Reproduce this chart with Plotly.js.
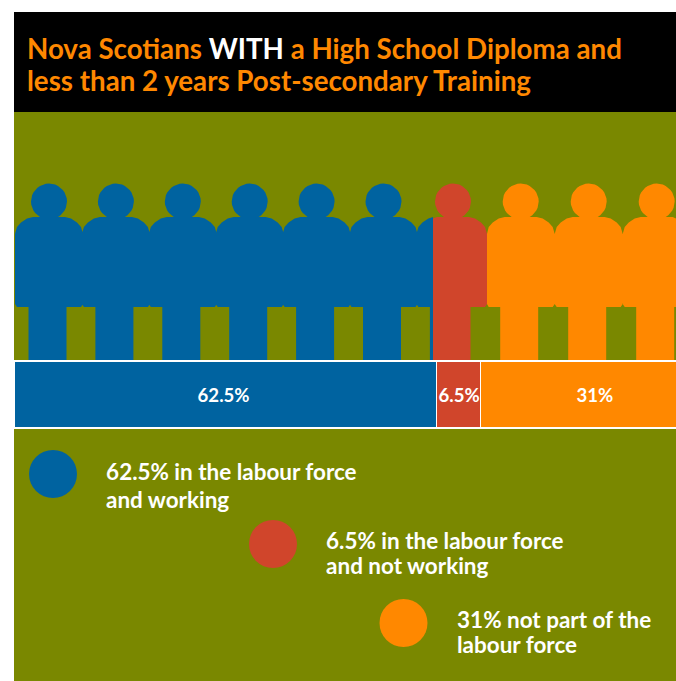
<!DOCTYPE html>
<html>
<head>
<meta charset="utf-8">
<script src="https://cdn.plot.ly/plotly-3.0.1.min.js"></script>
<style>html,body{margin:0;padding:0;background:#fff}</style>
</head>
<body>
<div id="chart"></div>
<script>
// Labour force status shares, in percent
const statusValues = [62.5, 6.5, 31];
const statusColors = ['#0063a0', '#d0452b', '#ff8800'];
const figureCounts = [7, 1, 3];
const legendLines = [
  ['62.5% in the labour force', 'and working'],
  ['6.5% in the labour force', 'and not working'],
  ['31% not part of the', 'labour force']
];

// Page geometry: the main axes are numbered in page pixels
const LEFT = 14, RIGHT = 676, TOP = 112, BOTTOM = 681;
const PX_PER_PERCENT = 6.76;
const OLIVE = '#7a8800';
const FONT = 'Lato, "Open Sans", sans-serif';

// One row of figures per status, each cropped to its own column
const rows = [
  {start: 49, pitch: 66.9, clip: [14, 433]},
  {start: 453, pitch: 67, clip: [433, 488]},
  {start: 520.7, pitch: 68, clip: [487, 676]}
];
const shoulder = [[34, 234], [32, 227], [28, 222.5], [22, 218.5], [16, 217]];

function figureOutline(cx, clip) {
  const xs = [], ys = [];
  const add = (x, y) => { xs.push(Math.min(clip[1], Math.max(clip[0], x))); ys.push(y); };
  // head
  for (let a = 0; a <= 360; a += 10) {
    const t = a * Math.PI / 180;
    add(cx + 18 * Math.cos(t), 201.5 + 18 * Math.sin(t));
  }
  xs.push(null); ys.push(null);
  // legs, body and shoulders, clockwise on screen from the lower left leg
  add(cx - 20.5, 361);
  add(cx - 20.5, 307);
  add(cx - 32, 307);
  add(cx - 34, 304);
  shoulder.forEach(p => add(cx - p[0], p[1]));
  shoulder.slice().reverse().forEach(p => add(cx + p[0], p[1]));
  add(cx + 34, 304);
  add(cx + 32, 307);
  add(cx + 17.5, 307);
  add(cx + 17.5, 361);
  xs.push(null); ys.push(null);
  return {xs, ys};
}

const traces = [];

// Figures
[0, 2, 1].forEach(g => {
  const xs = [], ys = [];
  for (let i = 0; i < figureCounts[g]; i++) {
    const o = figureOutline(rows[g].start + i * rows[g].pitch, rows[g].clip);
    xs.push(...o.xs); ys.push(...o.ys);
  }
  traces.push({
    type: 'scatter', mode: 'lines', x: xs, y: ys, fill: 'toself',
    fillcolor: statusColors[g], line: {width: 0, color: statusColors[g]},
    hoverinfo: 'skip', showlegend: false, xaxis: 'x', yaxis: 'y'
  });
});

// Legend dots
const dotX = [53, 273, 403.5], dotY = [474, 544, 623];
traces.push({
  type: 'scatter', mode: 'markers', x: dotX, y: dotY,
  marker: {size: 48, color: statusColors, line: {width: 0}},
  hoverinfo: 'skip', showlegend: false, xaxis: 'x', yaxis: 'y'
});

// Stacked share bar on the percent axis
statusValues.forEach((v, i) => {
  traces.push({
    type: 'bar', orientation: 'h', x: [v], y: [394.5], width: [67],
    marker: {color: statusColors[i], line: {color: '#ffffff', width: 1.5}},
    hoverinfo: 'skip', showlegend: false, xaxis: 'x2', yaxis: 'y'
  });
});

const annotations = [];
const barLabelX = [223, 458.5, 595];
statusValues.forEach((v, i) => annotations.push({
  xref: 'x', yref: 'y', x: barLabelX[i], y: 394.5, text: v + '%', showarrow: false,
  xanchor: 'center', yanchor: 'middle',
  font: {family: FONT, size: 19, color: '#ffffff', weight: 700}
}));

const legendX = [104, 324, 455];
const legendY = [[471, 499], [540, 565], [619, 644]];
legendLines.forEach((lines, i) => lines.forEach((t, j) => annotations.push({
  xref: 'x', yref: 'y', x: legendX[i], y: legendY[i][j], text: t, showarrow: false,
  xanchor: 'left', yanchor: 'middle',
  font: {family: FONT, size: 22, color: '#ffffff', weight: 700}
})));

const layout = {
  width: 676, height: 681,
  margin: {l: LEFT, r: 0, t: TOP, b: 0, pad: 0},
  paper_bgcolor: '#ffffff', plot_bgcolor: OLIVE,
  barmode: 'stack', showlegend: false,
  title: {
    text: '<span style="font-size:29px">Nova Scotians <span style="color:#ffffff">WITH</span> a High School Diploma and</span><br>' +
          '<span style="font-size:29px">less than 2 years Post-secondary Training</span>',
    x: 27 / 676, xanchor: 'left', xref: 'container', yref: 'container', y: 1 - 59 / 681, yanchor: 'bottom',
    font: {family: FONT, size: 24.6, color: '#ff8800', weight: 700}
  },
  xaxis: {domain: [0, 1], range: [LEFT, RIGHT], visible: false, fixedrange: true},
  xaxis2: {range: [0, (RIGHT - LEFT) / PX_PER_PERCENT], overlaying: 'x', visible: false, fixedrange: true},
  yaxis: {range: [BOTTOM, TOP], visible: false, fixedrange: true},
  shapes: [{
    type: 'rect', xref: 'paper', yref: 'paper', x0: 0, x1: 1, y0: 1, y1: 1 + 100 / 569,
    fillcolor: '#000000', line: {width: 0}, layer: 'below'
  }],
  annotations
};

// The set type is a condensed face, so the drawn text is narrowed horizontally
function narrow(el, factor, origin) {
  el.style.transformBox = 'fill-box';
  el.style.transformOrigin = origin + ' 50%';
  el.style.transform = 'scaleX(' + factor + ')';
}

Plotly.newPlot('chart', traces, layout, {displayModeBar: false, staticPlot: true}).then(() => {
  const title = document.querySelector('.gtitle');
  narrow(title, 595 / title.getBBox().width, '0%');
  const notes = Array.from(document.querySelectorAll('.annotation-text'));
  const legendNote = notes.find(n => n.textContent === legendLines[0][0]);
  const legendFactor = 251 / legendNote.getBBox().width;
  const barNote = notes.find(n => n.textContent === statusValues[0] + '%');
  const barFactor = 52 / barNote.getBBox().width;
  notes.forEach(n => {
    if (n.textContent.length > 5) narrow(n, legendFactor, '0%');
    else narrow(n, barFactor, '50%');
  });
});
</script>
</body>
</html>
